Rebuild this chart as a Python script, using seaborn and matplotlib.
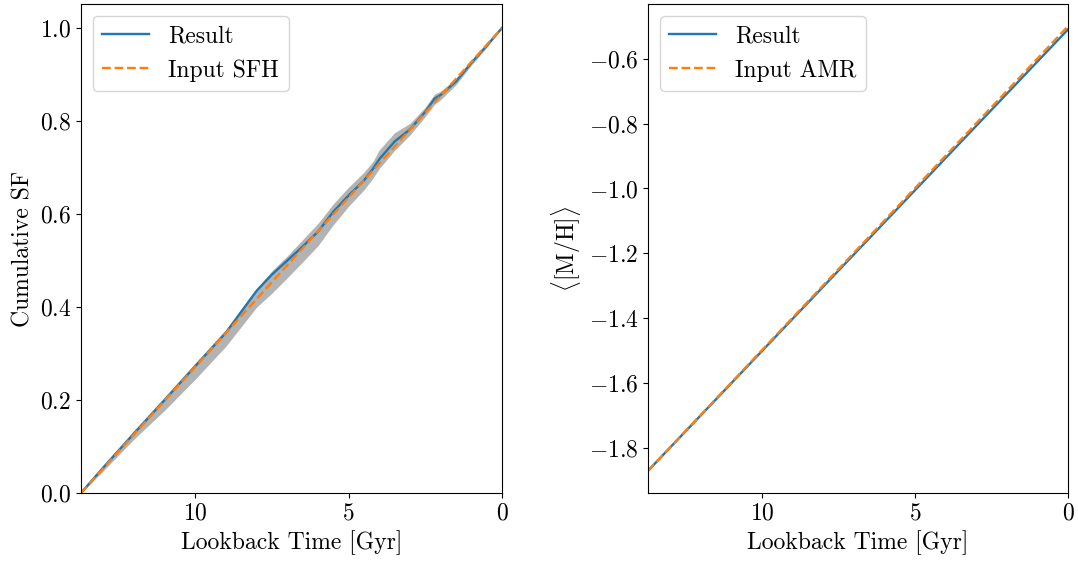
import numpy as np
import pandas as pd
import matplotlib
matplotlib.use("Agg")
import matplotlib.pyplot as plt
import seaborn as sns

# ---- data ----
t_sf = [13.73, 13.0, 12.0, 11.0, 10.0, 9.0, 8.0, 7.5, 7.0, 6.5, 6.0, 5.5, 5.0,
        4.5, 4.2, 4.0, 3.5, 3.0, 2.5, 2.2, 2.0, 1.5, 1.0, 0.5, 0.0]
sf_result = [0.0, 0.055, 0.128, 0.200, 0.273, 0.345, 0.435, 0.470, 0.500, 0.530,
             0.562, 0.605, 0.640, 0.672, 0.698, 0.718, 0.756, 0.782, 0.820, 0.848,
             0.856, 0.885, 0.925, 0.962, 1.0]
sf_lower = [0.0, 0.048, 0.116, 0.178, 0.245, 0.316, 0.400, 0.430, 0.463, 0.497,
            0.532, 0.577, 0.617, 0.652, 0.678, 0.698, 0.737, 0.770, 0.810, 0.836,
            0.846, 0.878, 0.920, 0.958, 1.0]
sf_upper = [0.0, 0.060, 0.135, 0.207, 0.280, 0.352, 0.440, 0.478, 0.510, 0.545,
            0.580, 0.622, 0.658, 0.690, 0.714, 0.738, 0.775, 0.795, 0.830, 0.858,
            0.864, 0.892, 0.930, 0.966, 1.0]
t_input = [13.73, 0.0]
sf_input = [0.0, 1.0]

t_amr = [13.73, 0.0]
mh_result = [-1.87, -0.51]
mh_input = [-1.87, -0.50]

blue = "#1f77b4"
orange = "#ff7f0e"
FS = 17

plt.rcParams.update({
    "font.family": "serif",
    "font.serif": ["cmr10", "DejaVu Serif"],
    "mathtext.fontset": "cm",
    "axes.formatter.use_mathtext": True,
    "font.size": FS,
    "axes.unicode_minus": True,
})

fig = plt.figure(figsize=(10.78, 5.63), dpi=100)
ax1 = fig.add_axes([0.0751, 0.1243, 0.3906, 0.8686])
ax2 = fig.add_axes([0.6011, 0.1243, 0.3896, 0.8686])

# left panel
ax1.fill_between(t_sf, sf_lower, sf_upper, color="0.7", lw=0)
sns.lineplot(x=t_sf, y=sf_result, ax=ax1, color=blue, lw=1.7, label="Result",
             sort=False, estimator=None)
sns.lineplot(x=t_input, y=sf_input, ax=ax1, color=orange, lw=1.7, ls="--",
             label="Input SFH", sort=False, estimator=None)
ax1.set_xlim(13.73, 0)
ax1.set_ylim(0, 1.0516)
ax1.set_xticks([10, 5, 0])
ax1.set_yticks([0.0, 0.2, 0.4, 0.6, 0.8, 1.0])
ax1.set_xlabel("Lookback Time [Gyr]")
ax1.set_ylabel("Cumulative SF")
ax1.legend(loc="upper left", fontsize=FS)

# right panel
sns.lineplot(x=t_amr, y=mh_result, ax=ax2, color=blue, lw=1.7, label="Result",
             sort=False, estimator=None)
sns.lineplot(x=t_amr, y=mh_input, ax=ax2, color=orange, lw=1.7, ls="--",
             label="Input AMR", sort=False, estimator=None)
ax2.set_xlim(13.73, 0)
ax2.set_ylim(-1.9385, -0.4315)
ax2.set_xticks([10, 5, 0])
ax2.set_yticks([-1.8, -1.6, -1.4, -1.2, -1.0, -0.8, -0.6])
ax2.set_xlabel("Lookback Time [Gyr]")
ax2.set_ylabel(r"$\langle[\mathrm{M/H}]\rangle$")
ax2.legend(loc="upper left", fontsize=FS)

for ax in (ax1, ax2):
    ax.tick_params(labelsize=FS)

fig.savefig("out.png", dpi=100)
